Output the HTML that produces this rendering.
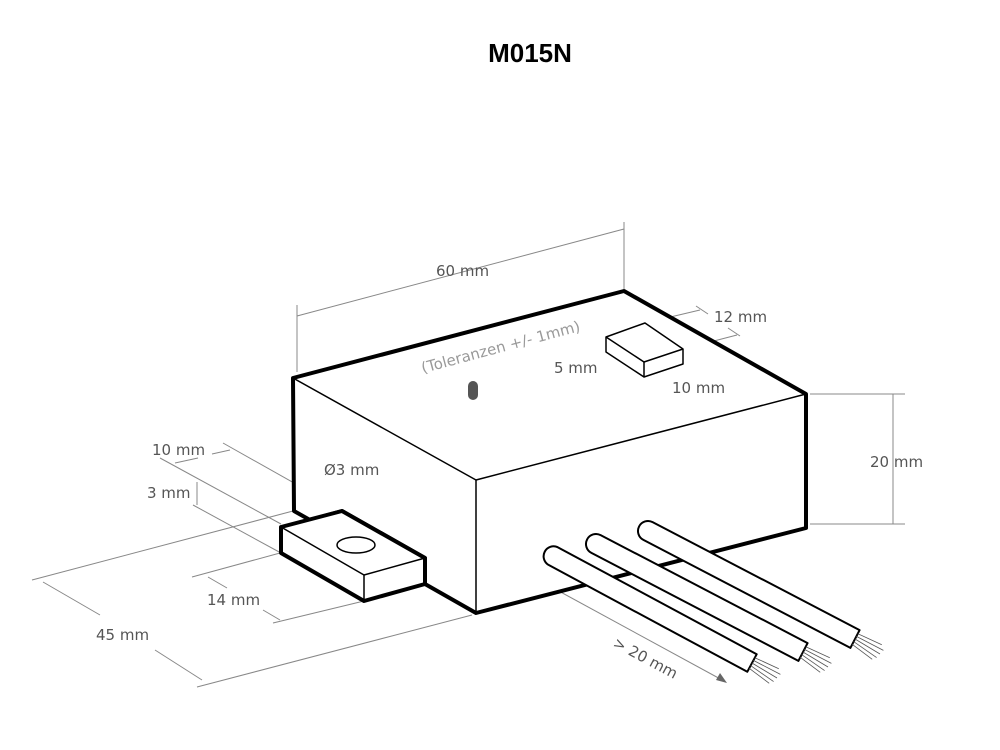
<!DOCTYPE html>
<html><head><meta charset="utf-8"><style>
html,body{margin:0;padding:0;background:#fff;}
svg{display:block;}
text{font-family:"DejaVu Sans","Liberation Sans",sans-serif;fill:#555;font-size:15px;}
</style></head><body>
<svg width="1000" height="750" viewBox="0 0 1000 750" xmlns="http://www.w3.org/2000/svg">
<text x="530" y="62" text-anchor="middle" style="font-family:'Liberation Sans',sans-serif;font-weight:bold;font-size:26px;fill:#000">M015N</text>

<g stroke="#888" stroke-width="1" fill="none">
<line x1="297" y1="305" x2="297" y2="372"/>
<line x1="624" y1="222" x2="624" y2="289"/>
<line x1="297" y1="316" x2="624" y2="229"/>
<line x1="810" y1="394" x2="905" y2="394"/>
<line x1="810" y1="524" x2="905" y2="524"/>
<line x1="893" y1="394" x2="893" y2="524"/>
<line x1="645" y1="323" x2="700" y2="310"/>
<line x1="683" y1="349" x2="737" y2="335"/>
<line x1="696" y1="306" x2="708" y2="314"/>
<line x1="728" y1="328" x2="740" y2="336"/>
<line x1="604" y1="362" x2="644" y2="362"/>
<line x1="604" y1="377" x2="644" y2="377"/>
<line x1="604" y1="362" x2="604" y2="377"/>
<line x1="644" y1="377" x2="660" y2="386"/>
<line x1="683" y1="364" x2="697" y2="372"/>
<line x1="656" y1="384" x2="696" y2="372"/>
<line x1="223" y1="443" x2="342" y2="510"/>
<line x1="160" y1="458" x2="281" y2="524"/>
<line x1="212" y1="454" x2="230" y2="450"/>
<line x1="175" y1="463" x2="198" y2="458"/>
<line x1="197" y1="482" x2="197" y2="505"/>
<line x1="193" y1="505" x2="281" y2="553"/>
<line x1="32" y1="580" x2="293" y2="511"/>
<line x1="197" y1="687" x2="472" y2="615"/>
<line x1="43" y1="582" x2="100" y2="615"/>
<line x1="155" y1="650" x2="202" y2="680"/>
<line x1="192" y1="577" x2="280" y2="553"/>
<line x1="273" y1="623" x2="364" y2="601"/>
<line x1="208" y1="577" x2="227" y2="588"/>
<line x1="263" y1="610" x2="280" y2="620"/>
<line x1="336" y1="486" x2="336" y2="537"/>
<line x1="375" y1="486" x2="375" y2="537"/>
<line x1="336" y1="486" x2="343" y2="486"/>
<line x1="368" y1="486" x2="375" y2="486"/>
<line x1="533" y1="577" x2="724" y2="681"/>
</g>
<polygon points="727,683 716,680 720,673" fill="#666"/>

<g stroke="#000" stroke-linejoin="round" fill="#fff">
<polygon points="293,378 624,291 806,394 806,528 476,613 425,584 425,558 342,511 310,520 294,511" stroke-width="4"/>
<polyline points="293,378 476,480 806,394" fill="none" stroke-width="1.5"/>
<line x1="476" y1="480" x2="476" y2="613" stroke-width="1.5"/>
<polygon points="281,527 342,511 425,558 425,584 364,601 281,553" stroke-width="4"/>
<polyline points="281,527 364,575 425,558" fill="none" stroke-width="1.5"/>
<line x1="364" y1="575" x2="364" y2="601" stroke-width="1.5"/>
<ellipse cx="356" cy="545" rx="19" ry="8" stroke-width="1.5"/>
<polygon points="606,337 645,323 683,349 683,364 644,377 606,352" stroke-width="1.5"/>
<polyline points="606,337 644,362 683,349" fill="none" stroke-width="1.5"/>
<line x1="644" y1="362" x2="644" y2="377" stroke-width="1.5"/>
</g>
<rect x="468" y="381" width="10" height="19" rx="5" fill="#555"/>

<g stroke-linejoin="round">
<path d="M652.6,522.1 L859.6,630.1 L850.4,647.9 L643.4,539.9 A10 10 0 0 1 652.6,522.1 Z" fill="#fff" stroke="#000" stroke-width="2"/>
<g stroke="#555" stroke-width="0.8"><path d="M857.8,633.7 l24,11 M856.4,636.4 l27,14 M855,639 l25,15 M853.6,641.6 l23,16 M852.2,644.3 l20,15"/></g>
<path d="M600.6,535.1 L807.6,643.1 L798.4,660.9 L591.4,552.9 A10 10 0 0 1 600.6,535.1 Z" fill="#fff" stroke="#000" stroke-width="2"/>
<g stroke="#555" stroke-width="0.8"><path d="M805.8,646.7 l24,11 M804.4,649.4 l27,14 M803,652 l25,15 M801.6,654.6 l23,16 M800.2,657.3 l20,15"/></g>
<path d="M557.7,547.2 L756.7,654.2 L747.3,671.8 L548.3,564.8 A10 10 0 0 1 557.7,547.2 Z" fill="#fff" stroke="#000" stroke-width="2"/>
<g stroke="#555" stroke-width="0.8"><path d="M754.8,657.7 l24,11 M753.4,660.4 l27,14 M752,663 l25,15 M750.6,665.6 l23,16 M749.2,668.3 l20,15"/></g>
</g>

<text x="436" y="276">60 mm</text>
<text x="870" y="467">20 mm</text>
<text x="714" y="322">12 mm</text>
<text x="554" y="373">5 mm</text>
<text x="672" y="393">10 mm</text>
<text x="502" y="352" text-anchor="middle" transform="rotate(-15 502 352)" style="fill:#999">(Toleranzen +/- 1mm)</text>
<text x="152" y="455">10 mm</text>
<text x="147" y="498">3 mm</text>
<text x="207" y="605">14 mm</text>
<text x="96" y="640">45 mm</text>
<text x="324" y="475">Ø3 mm</text>
<text x="612" y="646" transform="rotate(28 612 646)">&gt; 20 mm</text>
</svg>
</body></html>
